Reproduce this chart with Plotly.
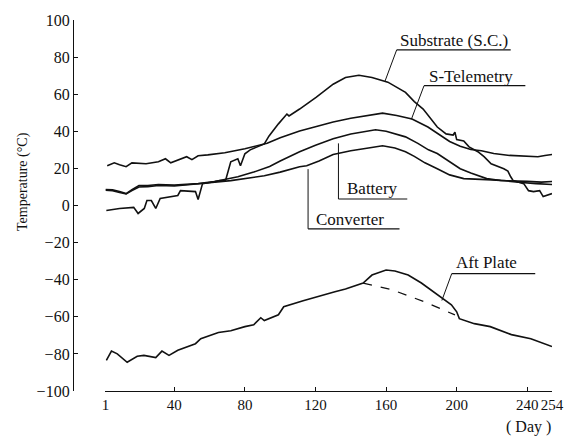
import plotly.graph_objects as go

# ---- data (day, temperature °C) ----
sub_day = [1.5, 9, 17, 19.5, 23, 24.5, 27, 29.5, 32, 42, 43.5, 52, 53.5, 56, 66, 69, 72, 76, 77.5, 80,
           83, 91, 93.7, 96.5, 99, 103.8, 105, 111, 120.5, 130, 137, 144.6, 152, 161, 171, 176, 181,
           189, 194, 198, 199, 200, 204, 207, 212, 215.5, 219.5, 226.7, 229, 230.6, 232, 238, 240.7,
           243.5, 247, 249, 251, 254]
sub_temp = [-2.7, -1.6, -1, -4.3, -1.6, 2.7, 2.7, -1.6, 3.8, 5.4, 8, 7.5, 3.2, 11.8, 13.4, 13.4, 23.6,
            25.2, 21.4, 27.9, 30, 33.2, 37.5, 41.3, 44, 49.3, 48.3, 52, 58.4, 65.4, 69, 70.2, 69, 66.5,
            61, 56, 52, 42.3, 38.6, 38, 39.5, 35.5, 34.8, 31.6, 29, 26.3, 22.5, 19.8, 18.5, 15.5, 13.4,
            11.8, 8, 7.5, 8, 4.8, 5.5, 6.4]

tel_day = [2, 6, 9, 12.7, 16, 24, 31, 35, 38, 47, 50, 53.5, 59, 68.6, 80, 87, 92.6, 100, 111, 120,
           130, 140, 150, 158, 166, 174.7, 183.7, 190, 196, 202, 208, 214, 221, 230, 239.5, 246, 250, 254]
tel_temp = [21.4, 23, 22, 20.9, 23, 22.5, 23.6, 25.2, 23, 26.3, 24.7, 26.8, 27.3, 28.4, 30.6, 32.2,
            33.5, 36.5, 40.2, 42.5, 45, 47, 48.5, 49.8, 48.5, 46.6, 42.3, 38.5, 34.5, 32, 30.2, 29.5,
            28, 27, 26.8, 26.3, 27, 27.5]

bat_day = [1, 5, 9, 12.7, 16, 20, 25, 31, 40, 53.5, 63, 72, 76, 85, 91, 94, 100, 111, 120, 130, 140,
           148, 154, 160, 165, 171, 178, 184, 189, 195, 202, 208, 217, 225, 232, 240, 248, 254]
bat_temp = [8.6, 8.4, 7.5, 6.4, 8.5, 10.7, 10.8, 11.3, 11, 11.8, 12.9, 14.5, 15.5, 18, 19.8, 21, 24,
            29, 32.5, 36, 38.5, 40, 40.8, 40, 38.6, 37, 33.5, 30, 28, 24, 19.8, 17.5, 14.5, 13.5, 13.4,
            13, 12.6, 12.9]

con_day = [1, 5, 9, 12.7, 16, 20, 25, 31, 40, 53.5, 63, 72, 80, 91, 100, 111, 115, 122, 130, 140, 150,
           158, 165, 171, 176, 182, 189, 196, 204, 211.6, 220, 227, 235, 245, 254]
con_temp = [8.2, 8, 7, 6.2, 8, 10, 10.2, 10.8, 10.5, 11.5, 12.5, 13.4, 14.5, 16, 18, 20.9, 21.4, 24,
            27.5, 29.5, 31, 32.2, 31, 29, 26.5, 23, 19.8, 16.5, 14.5, 14, 13.8, 13.4, 12.5, 11.8, 11.3]

aft_day = [1.5, 4.4, 7.7, 13.3, 19, 22.8, 29.5, 33, 37, 42, 52, 55, 65, 72, 80, 85, 89, 91, 99, 102,
           113, 124, 131, 137, 147, 152, 160, 165, 172.5, 180, 189, 197, 200, 201.5, 210, 219, 231,
           242, 254]
aft_temp = [-83.5, -78.5, -80, -84.5, -81.3, -80.8, -82, -78.5, -80.8, -78, -74.5, -71.8, -68.5, -67.5,
            -65.3, -64.3, -60.5, -62, -58.9, -54.6, -51.3, -48.2, -46.5, -45, -41.8, -37.5, -34.8,
            -35.3, -37.5, -41.8, -48.2, -53.5, -57.3, -61, -63.7, -65.3, -69.6, -71.8, -76]

aft_dash_day = [147, 163.5, 182, 191.5, 199]
aft_dash_temp = [-41.8, -45.5, -52, -56, -59]

x_ticks = [1, 40, 80, 120, 160, 200, 240, 254]
y_ticks = [100, 80, 60, 40, 20, 0, -20, -40, -60, -80, -100]

FONT = "Liberation Serif"
BLACK = "#111111"

fig = go.Figure()
line = dict(color=BLACK, width=1.6)
for xs, ys in [(sub_day, sub_temp), (tel_day, tel_temp), (bat_day, bat_temp),
               (con_day, con_temp), (aft_day, aft_temp)]:
    fig.add_trace(go.Scatter(x=xs, y=ys, mode="lines", line=line, showlegend=False,
                             hoverinfo="skip"))
fig.add_trace(go.Scatter(x=aft_dash_day, y=aft_dash_temp, mode="lines",
                         line=dict(color=BLACK, width=1.3, dash="dash"),
                         showlegend=False, hoverinfo="skip"))

# ---- label callouts: (text, text_x, text_y, underline x0, x1, y, leader end x, y) ----
labels = [
    ("Substrate (S.C.)", 166.5, 89.0, 166, 230.6, 83.9, 159.3, 66.8),
    ("S-Telemetry", 183.0, 69.8, 181.5, 238.9, 64.6, 174.3, 46.4),
    ("Battery", 137.0, 8.9, 133, 172, 3.5, 133, 33.5),
    ("Converter", 119.0, -7.6, 115.8, 167.6, -12.6, 115.8, 19.6),
    ("Aft Plate", 198.3, -30.8, 197.2, 244.5, -36.7, 191.6, -51.2),
]
for text, tx, ty, ux0, ux1, uy, lx, ly in labels:
    fig.add_annotation(x=tx, y=ty, text=text, showarrow=False, xanchor="left", yanchor="middle",
                       font=dict(family=FONT, size=17, color=BLACK))
    fig.add_shape(type="line", x0=ux0, x1=ux1, y0=uy, y1=uy, line=dict(color=BLACK, width=1.2))
    fig.add_shape(type="line", x0=ux0, x1=lx, y0=uy, y1=ly, line=dict(color=BLACK, width=1))

W, H = 576, 437
ML, MR, MT, MB = 73, 16, 18, 46
pw = W - ML - MR
ph = H - MT - MB
x_dom0 = (106 - ML) / pw

fig.add_annotation(xref="paper", yref="paper", x=(22 - ML) / pw, y=(391 - 180) / ph,
                   text="Temperature (°C)", textangle=-90, showarrow=False,
                   xanchor="center", yanchor="middle",
                   font=dict(family=FONT, size=14, color=BLACK))
fig.add_annotation(xref="paper", yref="paper", x=(536 - ML) / pw, y=(391 - 427) / ph,
                   text="( Day )", showarrow=False, xanchor="center", yanchor="middle",
                   font=dict(family=FONT, size=16, color=BLACK))

fig.update_layout(
    width=W, height=H,
    margin=dict(l=ML, r=MR, t=MT, b=MB),
    paper_bgcolor="white", plot_bgcolor="white",
    font=dict(family=FONT, size=16, color=BLACK),
    xaxis=dict(domain=[x_dom0, 1], range=[1, 254], tickvals=x_ticks,
               ticktext=[str(v) for v in x_ticks], showgrid=False, zeroline=False,
               showline=True, linecolor=BLACK, linewidth=1.3, ticks="inside", ticklen=4,
               tickcolor=BLACK, anchor="y", tickangle=0, tickfont=dict(family=FONT, size=15)),
    yaxis=dict(range=[-100, 100], tickvals=y_ticks, showgrid=False, zeroline=False,
               showline=True, linecolor=BLACK, linewidth=1.3, ticks="inside", ticklen=4,
               tickcolor=BLACK, anchor="free", position=0, tickfont=dict(family=FONT, size=16)),
)

fig.write_html("out.html")
